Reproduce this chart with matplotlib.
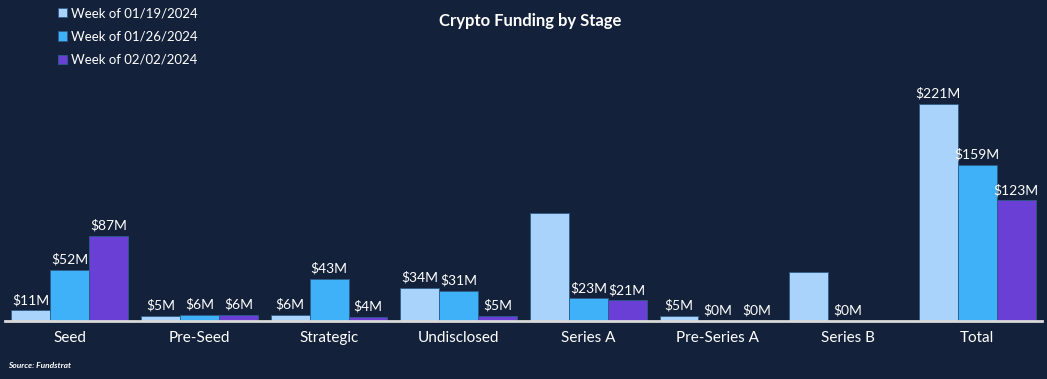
#!/usr/bin/env python3

import matplotlib.pyplot as plt
import numpy as np

STAGES = ["Seed", "Pre-Seed", "Strategic", "Undisclosed", "Series A",
          "Pre-Series A", "Series B", "Total"]
WEEKS = ["Week of 01/19/2024", "Week of 01/26/2024", "Week of 02/02/2024"]
WEEK1 = [11, 5, 6, 34, 110, 5, 50, 221]
WEEK2 = [52, 6, 43, 31, 23, 0, 0, 159]
WEEK3 = [87, 6, 4, 5, 21, 0, 0, 123]
# Labels as shown on the chart (some bars carry none).
LABELS1 = ["$11M", "$5M", "$6M", "$34M", "", "$5M", "", "$221M"]
LABELS2 = ["$52M", "$6M", "$43M", "$31M", "$23M", "$0M", "$0M", "$159M"]
LABELS3 = ["$87M", "$6M", "$4M", "$5M", "$21M", "$0M", "", "$123M"]
COLORS = ["#a9d3fb", "#3fb1f9", "#6a3fd6"]
BG = "#13213a"

plt.rcParams["font.family"] = ["Lato", "DejaVu Sans"]

fig = plt.figure(figsize=(10.47, 3.79), dpi=100, facecolor=BG)
ax = fig.add_axes([5 / 1047, 58 / 379, 1037 / 1047, 261 / 379])
ax.set_facecolor(BG)

x = np.arange(len(STAGES))
width = 0.3
series = [WEEK1, WEEK2, WEEK3]
labels = [LABELS1, LABELS2, LABELS3]
for i, (vals, labs) in enumerate(zip(series, labels)):
    bars = ax.bar(x + (i - 1) * width, vals, width, color=COLORS[i],
                  edgecolor="#2d5c8a", linewidth=0.6, label=WEEKS[i])
    ax.bar_label(bars, labels=labs, padding=3, color="white", fontsize=10)

ax.set_xlim(-0.5, len(STAGES) - 0.5)
ax.set_ylim(0, 266)
ax.set_yticks([])
ax.set_xticks(x, STAGES)
ax.tick_params(axis="x", length=0, colors="white", labelsize=11, pad=7)
for side in ["top", "right", "left"]:
    ax.spines[side].set_visible(False)
ax.spines["bottom"].set_color("#d9d9d9")
ax.spines["bottom"].set_linewidth(2)

fig.text(0.506, 0.945, "Crypto Funding by Stage", color="white",
         fontsize=12, fontweight="bold", ha="center", va="center")
fig.legend(loc="upper left", bbox_to_anchor=(0.044, 1.012), frameon=False,
           labelcolor="white", fontsize=9.5, handlelength=0.7,
           handleheight=0.7, handletextpad=0.3, labelspacing=0.85)
fig.text(0.008, 0.03, "Source: Fundstrat", color="white", fontsize=6,
         fontweight="bold", fontstyle="italic")

fig.savefig("out.png", dpi=100, facecolor=BG)
